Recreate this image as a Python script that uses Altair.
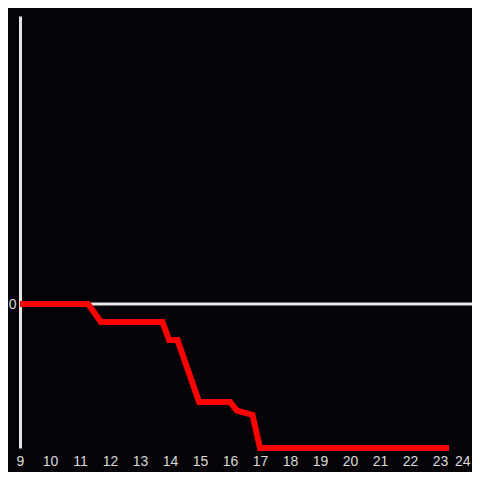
import altair as alt
import pandas as pd

hours = [9, 11.27, 11.7, 13.75, 13.97, 14.25, 14.97, 16.0, 16.23, 16.75, 17.0, 23.3]
values = [0, 0, -0.125, -0.125, -0.25, -0.25, -0.68, -0.68, -0.74, -0.77, -1.0, -1.0]
x_ticks = list(range(9, 25))

df = pd.DataFrame({"hour": hours, "value": values})
zero = pd.DataFrame({"y": [0]})

x_scale = alt.Scale(domain=[9, 24.067], nice=False, zero=False)
y_scale = alt.Scale(domain=[-1, 2], nice=False)

y_axis = alt.Axis(values=[0], title=None, domain=True, domainColor="#e6e6e6", domainWidth=3,
                  ticks=False, grid=False, labelColor="#d9d9d9", labelFontSize=14,
                  labelFont="Liberation Sans", labelPadding=4)

rule = alt.Chart(zero).mark_rule(color="#e6e6e6", strokeWidth=3).encode(
    y=alt.Y("y:Q", scale=y_scale, axis=y_axis)
)

line = alt.Chart(df).mark_line(color="#ff0000", strokeWidth=6, strokeJoin="miter", strokeCap="butt").encode(
    x=alt.X("hour:Q", scale=x_scale,
            axis=alt.Axis(values=x_ticks, title=None, domain=False, ticks=False, grid=False,
                          labelColor="#d9d9d9", labelFontSize=14, labelFont="Liberation Sans",
                          labelPadding=6, labelFlush=False, labelOverlap=False,
                          labelAlign={"condition": {"test": "datum.value == 24", "value": "right"},
                                      "value": "center"})),
    y=alt.Y("value:Q", scale=y_scale, axis=y_axis),
)

chart = alt.layer(rule, line).properties(
    width=452, height=432,
    background="#050307",
    autosize=alt.AutoSizeParams(type="none"),
    padding={"left": 12, "top": 8, "right": 0, "bottom": 24},
).configure_view(stroke=None)

chart.save("out.html", embed_options={"renderer": "svg", "actions": False})
